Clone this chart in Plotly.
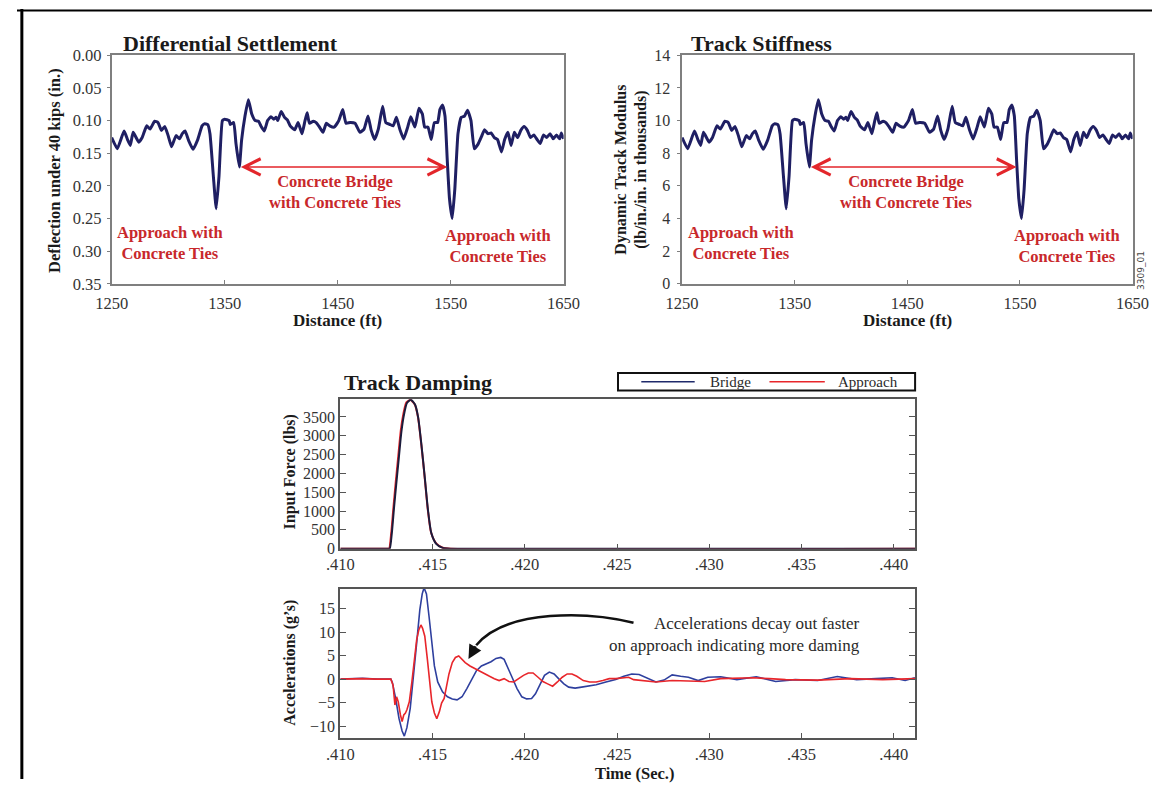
import plotly.graph_objects as go

W, H = 1169, 789
SERIF = "Liberation Serif, Times New Roman, serif"

# ---------------- data ----------------
distance_ft = [1250, 1255, 1261, 1264, 1266.5, 1269, 1274, 1277, 1281, 1284, 1288, 1291, 1294, 1297, 1300,
               1303, 1307, 1310, 1312.5, 1315, 1318, 1322, 1326, 1330, 1332, 1335, 1337, 1340, 1342.5, 1345,
               1348, 1350, 1354, 1355, 1358, 1360, 1363, 1365, 1368, 1371, 1374, 1377, 1380, 1382, 1385,
               1388, 1391, 1393.5, 1395.5, 1397, 1400, 1403, 1405.5, 1408, 1412, 1415, 1418.5, 1421, 1423, 1425,
               1428.5, 1431, 1434, 1437, 1440, 1443, 1447, 1451, 1454.5, 1457.4, 1461, 1465.4, 1469.7, 1473.4,
               1476.9, 1479.7, 1482.6, 1486, 1489.8, 1492.6, 1496.4, 1499.2, 1502, 1505, 1508.4, 1512, 1514.7,
               1518.4, 1522, 1525, 1527, 1530, 1532.8, 1535.6, 1538.5, 1540.5, 1542.8, 1545, 1547, 1549, 1551.4,
               1553.7, 1556.5, 1559.4, 1562.3, 1565, 1568, 1570.9, 1574.3, 1577.2, 1580, 1583, 1585.8, 1588.7,
               1591.5, 1595, 1597.8, 1600.7, 1603.5, 1606.4, 1609.3, 1612.1, 1615, 1617.9, 1620.7, 1623.6,
               1626.5, 1629.3, 1632.2, 1635, 1638, 1640.8, 1643.7, 1646.5, 1648, 1650]

deflection_in = [0.126, 0.143, 0.116, 0.129, 0.138, 0.118, 0.133, 0.126, 0.108, 0.113, 0.101, 0.103, 0.115, 0.109, 0.123,
                 0.140, 0.123, 0.128, 0.120, 0.116, 0.130, 0.144, 0.130, 0.108, 0.105, 0.106, 0.120, 0.185, 0.235, 0.185,
                 0.100, 0.098, 0.100, 0.106, 0.103, 0.135, 0.171, 0.130, 0.093, 0.068, 0.090, 0.100, 0.101, 0.108, 0.116,
                 0.100, 0.094, 0.098, 0.095, 0.100, 0.086, 0.095, 0.099, 0.108, 0.114, 0.103, 0.120, 0.101, 0.088, 0.104,
                 0.101, 0.103, 0.110, 0.118, 0.104, 0.108, 0.110, 0.100, 0.083, 0.104, 0.103, 0.104, 0.118, 0.113,
                 0.093, 0.115, 0.129, 0.113, 0.078, 0.103, 0.106, 0.108, 0.095, 0.113, 0.128, 0.110, 0.094,
                 0.110, 0.081, 0.090, 0.110, 0.110, 0.129, 0.103, 0.103, 0.083, 0.076, 0.093, 0.160, 0.220, 0.250,
                 0.205, 0.120, 0.095, 0.093, 0.084, 0.100, 0.143, 0.136, 0.125, 0.114, 0.120, 0.119, 0.126,
                 0.129, 0.148, 0.129, 0.118, 0.138, 0.118, 0.126, 0.115, 0.109, 0.115, 0.126, 0.122,
                 0.129, 0.135, 0.122, 0.126, 0.120, 0.128, 0.122, 0.128, 0.119, 0.128]

stiffness_k = [8.96, 8.28, 9.36, 8.84, 8.48, 9.28, 8.68, 8.96, 9.68, 9.48, 9.96, 9.88, 9.40, 9.64, 9.08,
               8.40, 9.08, 8.88, 9.20, 9.36, 8.80, 8.24, 8.80, 9.68, 9.80, 9.76, 9.20, 6.60, 4.60, 6.60,
               10.00, 10.08, 10.00, 9.76, 9.88, 8.60, 7.16, 8.80, 10.28, 11.28, 10.40, 10.00, 9.96, 9.68, 9.36,
               10.00, 10.24, 10.08, 10.20, 10.00, 10.56, 10.20, 10.04, 9.68, 9.44, 9.88, 9.20, 9.96, 10.48, 9.84,
               9.96, 9.88, 9.60, 9.28, 9.84, 9.68, 9.60, 10.00, 10.68, 9.84, 9.88, 9.84, 9.28, 9.48,
               10.28, 9.40, 8.84, 9.48, 10.88, 9.88, 9.76, 9.68, 10.20, 9.48, 8.88, 9.60, 10.24,
               9.60, 10.76, 10.40, 9.60, 9.60, 8.84, 9.88, 9.88, 10.68, 10.96, 10.28, 7.60, 5.20, 4.00,
               5.80, 9.20, 10.20, 10.28, 10.64, 10.00, 8.28, 8.56, 9.00, 9.44, 9.20, 9.24, 8.96,
               8.84, 8.08, 8.84, 9.28, 8.48, 9.28, 8.96, 9.40, 9.64, 9.40, 8.96, 9.12,
               8.84, 8.60, 9.12, 8.96, 9.20, 8.88, 9.12, 8.88, 9.24, 8.88]

distance_ticks = [1250, 1350, 1450, 1550, 1650]
deflection_ticks = [0.00, 0.05, 0.10, 0.15, 0.20, 0.25, 0.30, 0.35]
stiffness_ticks = [0, 2, 4, 6, 8, 10, 12, 14]

force_time_bridge = [0.4100, 0.4126, 0.41268, 0.41279, 0.41291, 0.41303, 0.41317, 0.41331, 0.41344, 0.41361,
                     0.41382, 0.41405, 0.41422, 0.41440, 0.41458, 0.41475, 0.41493, 0.41520, 0.41555, 0.4160, 0.4412]
force_bridge = [0, 0, 0, 400, 1080, 1700, 2400, 3100, 3530, 3870,
                3960, 3830, 3490, 2750, 1890, 1040, 420, 130, 20, 0, 0]
force_time_approach = [0.4100, 0.4126, 0.41265, 0.41276, 0.41288, 0.41300, 0.41314, 0.41328, 0.41341, 0.41358,
                       0.41380, 0.41403, 0.41421, 0.41439, 0.41457, 0.41474, 0.41492, 0.41520, 0.41555, 0.4160, 0.4412]
force_approach = [0, 0, 0, 420, 1100, 1750, 2450, 3150, 3560, 3890,
                  3950, 3840, 3500, 2770, 1910, 1050, 430, 140, 25, 0, 0]

acc_time_bridge = [0.410, 0.4112, 0.4120, 0.41274, 0.41282, 0.41300, 0.41318, 0.41335, 0.41347, 0.41361,
                   0.41379, 0.41396, 0.41414, 0.41431, 0.41444, 0.41454, 0.41467, 0.41481, 0.41496, 0.41510,
                   0.41528, 0.41554, 0.41581, 0.41607, 0.41633, 0.41660, 0.41686, 0.41712, 0.41738, 0.41765,
                   0.41791, 0.41817, 0.41844, 0.41870, 0.41888, 0.41905, 0.41931, 0.41958, 0.41984, 0.42010,
                   0.42037, 0.42058, 0.42080, 0.42107, 0.42133, 0.42159, 0.42186, 0.42212, 0.42238, 0.42273,
                   0.42308, 0.42344, 0.42387, 0.42440, 0.42493, 0.42537, 0.42580, 0.42620, 0.42665, 0.42711,
                   0.42755, 0.42799, 0.42845, 0.42887, 0.42940, 0.42992, 0.43062, 0.43150, 0.43255, 0.43360,
                   0.43466, 0.43588, 0.43694, 0.43799, 0.43904, 0.43992, 0.44062, 0.44115]
acc_bridge = [0, 0.2, 0, 0, -0.7, -4.1, -8.3, -11.0, -12.1, -10.3,
              -6.2, 0, 7.7, 14.7, 18.1, 19.4, 18.1, 13.3, 7.7, 2.8,
              -0.6, -2.7, -3.75, -4.2, -4.4, -3.75, -2.0, 0, 1.8, 2.8,
              3.2, 3.7, 4.4, 4.6, 4.2, 2.8, 0.4, -2.0, -3.75, -4.2,
              -4.1, -3.1, -1.3, 0.8, 1.5, 1.1, 0, -1.0, -1.7, -1.9,
              -1.7, -1.5, -1.2, -0.6, -0.1, 0.6, 1.1, 1.0, 0.2, -0.6,
              -0.2, 0.9, 0.6, 0.4, -0.3, 0.4, 0.5, -0.1, 0.5, -0.5,
              -0.1, -0.3, 0.55, -0.1, 0.1, 0.3, -0.3, 0.3]

acc_time_approach = [0.410, 0.4112, 0.4120, 0.41274, 0.41286, 0.41296, 0.41305, 0.41314, 0.41326, 0.41335,
                     0.41344, 0.41353, 0.41361, 0.41374, 0.41388, 0.41402, 0.41414, 0.41426, 0.41437, 0.41446,
                     0.41458, 0.41472, 0.41484, 0.41496, 0.41510, 0.41523, 0.41537, 0.41549, 0.41563, 0.41575,
                     0.41589, 0.41607, 0.41624, 0.41642, 0.41660, 0.41677, 0.41703, 0.41730, 0.41756, 0.41782,
                     0.41809, 0.41835, 0.41861, 0.41888, 0.41914, 0.41940, 0.41966, 0.41993, 0.42019, 0.42045,
                     0.42072, 0.42098, 0.42124, 0.42151, 0.42177, 0.42203, 0.42230, 0.42256, 0.42282, 0.42317,
                     0.42352, 0.42387, 0.42423, 0.42458, 0.42493, 0.42528, 0.42563, 0.42590, 0.42711, 0.42799,
                     0.42975, 0.43062, 0.43238, 0.43326, 0.43414, 0.43589, 0.43765, 0.43940, 0.44115]
acc_approach = [0, 0.1, 0, 0, -1.3, -5.5, -3.75, -4.8, -7.6, -9.0,
                -7.6, -7.2, -6.5, -4.8, -0.6, 4.9, 8.4, 10.5, 11.5, 10.8,
                9.1, 4.2, -0.6, -4.8, -7.2, -8.4, -6.9, -5.1, -4.1, -2.0,
                1.1, 3.5, 4.6, 4.9, 4.2, 3.5, 2.8, 2.2, 1.6, 1.1,
                0.6, 0.1, -0.3, 0.1, -0.5, -0.6, 0.1, 0.8, 1.3, 1.3,
                0.4, -0.5, -1.0, -1.5, -0.6, 0.4, 1.1, 1.1, 0.6, -0.3,
                -0.6, -0.6, -0.3, 0.1, 0.1, 0.2, 0.4, -0.1, -0.6, -0.3,
                -0.5, 0.1, 0.3, 0.1, -0.1, -0.2, 0.1, -0.1, 0.1]

time_ticks = [0.410, 0.415, 0.420, 0.425, 0.430, 0.435, 0.440]
time_tick_labels = [".410", ".415", ".420", ".425", ".430", ".435", ".440"]
force_ticks = [0, 500, 1000, 1500, 2000, 2500, 3000, 3500]
acc_ticks = [-10, -5, 0, 5, 10, 15]

assert len(distance_ft) == len(deflection_in) == len(stiffness_k)
assert len(acc_time_bridge) == len(acc_bridge)
assert len(acc_time_approach) == len(acc_approach)

# ---------------- styling ----------------
NAVY = "#1f1f63"
RED_TXT = "#c8282b"
RED_ARW = "#e3262b"
BLUE = "#2e3f9e"
RED = "#e8262b"
AX = "#7f7f7f"
AX2 = "#555555"
TICKC = "#333333"


def pxx(x):
    return x / W


def pyy(y):
    return 1 - y / H


fig = go.Figure()

fig.add_trace(go.Scatter(x=distance_ft, y=deflection_in, xaxis="x", yaxis="y", mode="lines",
                         line=dict(color=NAVY, width=3, shape="spline", smoothing=0.4), showlegend=False))
fig.add_trace(go.Scatter(x=distance_ft, y=stiffness_k, xaxis="x2", yaxis="y2", mode="lines",
                         line=dict(color=NAVY, width=3, shape="spline", smoothing=0.4), showlegend=False))
fig.add_trace(go.Scatter(x=force_time_approach, y=force_approach, xaxis="x3", yaxis="y3", mode="lines",
                         line=dict(color=RED, width=2, shape="spline", smoothing=0.6), name="Approach",
                         showlegend=False))
fig.add_trace(go.Scatter(x=force_time_bridge, y=force_bridge, xaxis="x3", yaxis="y3", mode="lines",
                         line=dict(color="#1c1c3c", width=2, shape="spline", smoothing=0.6), name="Bridge",
                         showlegend=False))
fig.add_trace(go.Scatter(x=acc_time_bridge, y=acc_bridge, xaxis="x4", yaxis="y4", mode="lines",
                         line=dict(color=BLUE, width=1.6), name="Bridge", showlegend=False))
fig.add_trace(go.Scatter(x=acc_time_approach, y=acc_approach, xaxis="x4", yaxis="y4", mode="lines",
                         line=dict(color=RED, width=1.6), name="Approach", showlegend=False))

tick_font_top = dict(family=SERIF, size=16.5, color=TICKC)
tick_font_botx = dict(family=SERIF, size=16.5, color=TICKC)
tick_font_boty = dict(family=SERIF, size=16, color=TICKC)

top_x = dict(range=[1250, 1650], tickvals=distance_ticks, showline=True, linecolor=AX, linewidth=1.5,
             mirror=True, ticks="inside", ticklen=4, tickcolor=AX, showgrid=False, zeroline=False,
             tickfont=tick_font_top, ticklabelstandoff=4)
bot_x = dict(range=[0.410, 0.44116], tickvals=time_ticks, ticktext=time_tick_labels, showline=True,
             linecolor=AX2, linewidth=2, mirror=True, ticks="inside", ticklen=5, tickcolor=AX2,
             showgrid=False, zeroline=False, tickfont=tick_font_botx)

yd_top = [pyy(281.5), pyy(47.5)]

fig.update_layout(
    autosize=True,
    margin=dict(l=0, r=0, t=0, b=0, pad=0),
    paper_bgcolor="white", plot_bgcolor="white",
    font=dict(family=SERIF, color="#1a1a1a"),
    showlegend=False,
    xaxis=dict(top_x, domain=[pxx(97.5), pxx(563)], anchor="y"),
    yaxis=dict(domain=yd_top, anchor="x", range=[0.35, 0.0], tickvals=deflection_ticks, tickformat=".2f",
               showline=True, linecolor=AX, linewidth=1.5, mirror=True, ticks="outside", ticklen=3,
               tickcolor=AX, showgrid=False, zeroline=False, tickfont=tick_font_top, ticklabelstandoff=2),
    xaxis2=dict(top_x, domain=[pxx(685), pxx(1149)], anchor="y2"),
    yaxis2=dict(domain=yd_top, anchor="x2", range=[0, 14], tickvals=stiffness_ticks,
                showline=True, linecolor=AX, linewidth=1.5, mirror=True, ticks="outside", ticklen=3,
                tickcolor=AX, showgrid=False, zeroline=False, tickfont=dict(tick_font_top, size=16),
                ticklabelstandoff=4),
    xaxis3=dict(bot_x, domain=[pxx(333), pxx(925)], anchor="y3"),
    yaxis3=dict(domain=[pyy(553), pyy(400)], anchor="x3", range=[0, 3967], tickvals=force_ticks,
                showline=True, linecolor=AX2, linewidth=2, mirror="ticks", ticks="inside", ticklen=6,
                tickcolor=AX2, showgrid=False, zeroline=False, tickfont=tick_font_boty),
    xaxis4=dict(bot_x, domain=[pxx(333), pxx(925)], anchor="y4"),
    yaxis4=dict(domain=[pyy(747), pyy(594)], anchor="x4", range=[-12.5, 19.2], tickvals=acc_ticks,
                showline=True, linecolor=AX2, linewidth=2, mirror="ticks", ticks="inside", ticklen=6,
                tickcolor=AX2, showgrid=False, zeroline=False, tickfont=tick_font_boty),
)

ann = []


def text(x, y, s, size=15, bold=True, color="#1a1a1a", angle=0, xanchor="center", align="center",
         family=SERIF):
    ann.append(dict(x=pxx(x), y=pyy(y), xref="paper", yref="paper", text=(f"<b>{s}</b>" if bold else s),
                    showarrow=False, xanchor=xanchor, yanchor="middle", align=align, textangle=angle,
                    font=dict(family=family, size=size, color=color)))


# titles
text(107, 35, "Differential Settlement", size=22, xanchor="left")
text(692, 35, "Track Stiffness", size=22, xanchor="left")
text(335, 383, "Track Damping", size=22, xanchor="left")
# axis titles
text(38, 165, "Deflection under 40 kips (in.)", size=16.5, angle=-90)
text(632, 165, "Dynamic Track Modulus<br>(lb/in./in. in thousands)", size=16, angle=-90)
text(330, 319, "Distance (ft)", size=17)
text(917, 319, "Distance (ft)", size=17)
text(281, 474, "Input Force (lbs)", size=16, angle=-90)
text(281, 670, "Accelerations (g’s)", size=16, angle=-90)
text(636, 783, "Time (Sec.)", size=16.5)
# red labels
text(157.5, 240, "Approach with<br>Concrete Ties", size=16.5, color=RED_TXT)
text(745.5, 240, "Approach with<br>Concrete Ties", size=16.5, color=RED_TXT)
text(328.5, 188, "Concrete Bridge<br>with Concrete Ties", size=16.5, color=RED_TXT)
text(495, 243, "Approach with<br>Concrete Ties", size=16.5, color=RED_TXT)
text(916, 188, "Concrete Bridge<br>with Concrete Ties", size=16.5, color=RED_TXT)
text(1081.5, 243, "Approach with<br>Concrete Ties", size=16.5, color=RED_TXT)
# damping note
text(870, 640.5, "Accelerations decay out faster<br>on approach indicating more daming", size=17, bold=False,
     color="#2a2a2a", xanchor="right", align="right")
text(1157, 268, "3309_01", size=9, bold=False, color="#444444", angle=-90, family="DejaVu Sans")
# legend texts
text(735, 382, "Bridge", size=15, bold=False, color="#2a2a2a")
text(876, 382, "Approach", size=15, bold=False, color="#2a2a2a")

# double arrows
ann.append(dict(x=1547, y=0.171, ax=1363, ay=0.171, xref="x", yref="y", axref="x", ayref="y", text="",
                showarrow=True, arrowhead=5, startarrowhead=5, arrowside="end+start", arrowsize=2,
                startarrowsize=2, arrowwidth=1.6, arrowcolor=RED_ARW))
ann.append(dict(x=1547, y=7.16, ax=1363, ay=7.16, xref="x2", yref="y2", axref="x2", ayref="y2", text="",
                showarrow=True, arrowhead=5, startarrowhead=5, arrowside="end+start", arrowsize=2,
                startarrowsize=2, arrowwidth=1.6, arrowcolor=RED_ARW))
# curved arrow head
ann.append(dict(x=0.416947, y=4.29, xref="x4", yref="y4", ax=8, ay=-14, text="", showarrow=True,
                arrowhead=2, arrowsize=1.1, arrowwidth=2.5, arrowcolor="#111111"))
fig.update_layout(annotations=ann)

shapes = [
    # curved arrow body
    dict(type="path", xref="x4", yref="y4",
         path="M 0.425895,11.96 C 0.423526,14.24 0.419053,15.06 0.417368,7.19",
         line=dict(color="#111111", width=2.5)),
    # custom legend
    dict(type="rect", xref="paper", yref="paper", x0=pxx(619), x1=pxx(925), y0=pyy(391), y1=pyy(373),
         line=dict(color="#111111", width=2), fillcolor="white"),
    dict(type="line", xref="paper", yref="paper", x0=pxx(643), x1=pxx(698), y0=pyy(382), y1=pyy(382),
         line=dict(color="#1f2a6b", width=1.5)),
    dict(type="line", xref="paper", yref="paper", x0=pxx(775), x1=pxx(832), y0=pyy(382), y1=pyy(382),
         line=dict(color=RED, width=1.5)),
    # outer frame
    dict(type="line", xref="paper", yref="paper", x0=pxx(5), x1=pxx(5), y0=0, y1=1,
         line=dict(color="#000000", width=3)),
    dict(type="line", xref="paper", yref="paper", x0=0, x1=1, y0=pyy(1.5), y1=pyy(1.5),
         line=dict(color="#000000", width=2)),
]
fig.update_layout(shapes=shapes)

fig.write_html("out.html", config={"displayModeBar": False},
               default_width="1169px; position:absolute; left:0px; top:0px",
               default_height="789px")
